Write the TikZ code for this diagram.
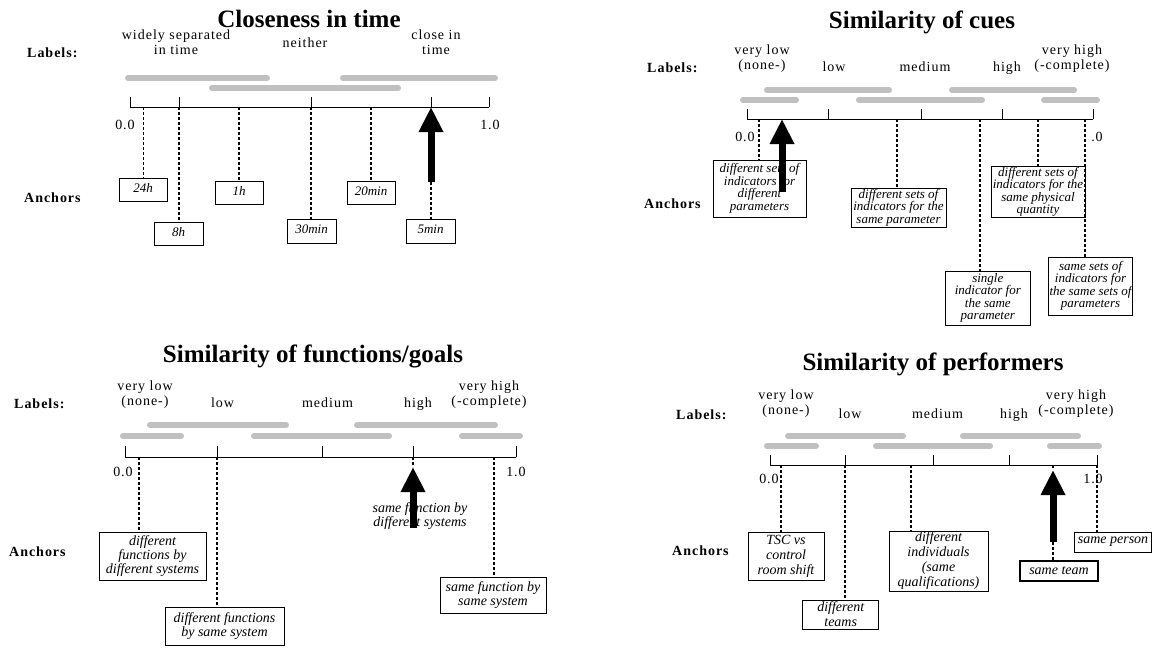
\documentclass[tikz,border=0pt]{standalone}
\usepackage{fontspec}
\setmainfont{Liberation Serif}
\newfontfamily\lsfont{Liberation Serif}[LetterSpace=7]
\usetikzlibrary{arrows.meta}
\definecolor{barc}{RGB}{192,192,192}
\begin{document}
\begin{tikzpicture}[x=1pt,y=-1pt,
  ttl/.style={font=\fontsize{25}{28}\selectfont\bfseries, inner sep=0pt, text height=17pt, text depth=1pt},
  hdr/.style={font=\lsfont\fontsize{14}{16}\selectfont\bfseries, anchor=west, inner sep=0pt, text height=9.5pt, text depth=0pt},
  lbl/.style={font=\lsfont\fontsize{14}{15}\selectfont, align=center, inner sep=0pt, text height=9.5pt, text depth=3pt},
  num/.style={font=\lsfont\fontsize{14}{14}\selectfont, inner sep=0pt, text height=9.5pt, text depth=0pt},
  bar/.style={line width=6pt, line cap=round, draw=barc},
  ax/.style={line width=1pt},
  dl/.style={line width=1.6pt, dash pattern=on 3pt off 2pt},
  dlt/.style={line width=0.9pt, dash pattern=on 3pt off 2pt},
  big/.style={line width=7pt, -{Triangle[width=23pt,length=25pt]}},
  abox/.style={draw, line width=0.8pt, align=center, inner sep=1pt, fill=white},
  fa/.style={font=\fontsize{13}{13}\selectfont\itshape, text height=8pt, text depth=3pt},
  fb/.style={font=\fontsize{13}{12.5}\selectfont\itshape},
  fc/.style={font=\fontsize{14}{14}\selectfont\itshape},
  fd/.style={font=\fontsize{14}{15}\selectfont\itshape}
]
\useasboundingbox[fill=white] (0,0) rectangle (1153,651);

% ================= Panel 1: Closeness in time =================
\node[ttl] (t1) at (309,19) {Closeness in time};
\node[hdr] (h1) at (27,53) {Labels:};
\node[lbl] (l1a) at (176,51.5) {widely separated\\in time};
\node[lbl] (l1b) at (305,44) {neither};
\node[lbl] (l1c) at (436,51.5) {close in\\time};
\draw[bar] (128,78) -- (267,78);
\draw[bar] (212,88) -- (398,88);
\draw[bar] (343,78) -- (495,78);
\coordinate (a1L) at (130,107);
\coordinate (a1R) at (489,107);
\coordinate (p1a) at (143,107);
\coordinate (p1b) at (179,107);
\coordinate (p1c) at (239,107);
\coordinate (p1d) at (311,107);
\coordinate (p1e) at (371,107);
\coordinate (p1f) at (431,107);
\draw[ax] (a1L) -- (a1R);
\draw[ax] (a1L) -- ++(0,-10);
\draw[ax] (a1R) -- ++(0,-10);
\draw[ax] (p1b) -- ++(0,-10);
\draw[ax] (p1d) -- ++(0,-10);
\draw[ax] (p1f) -- ++(0,-10);
\node[num] (n1a) at (125,125) {0.0};
\node[num] (n1b) at (490,125) {1.0};
\node[hdr] (an1) at (24,198) {Anchors};
\node[abox,fa,minimum width=48pt,minimum height=23pt] (b1a) at (143,189.5) {24h};
\node[abox,fa,minimum width=49pt,minimum height=23pt] (b1b) at (178.5,233.5) {8h};
\node[abox,fa,minimum width=48pt,minimum height=23pt] (b1c) at (239,192.5) {1h};
\node[abox,fa,minimum width=49pt,minimum height=24pt] (b1d) at (311.5,231) {30min};
\node[abox,fa,minimum width=48pt,minimum height=23pt] (b1e) at (371,192.5) {20min};
\node[abox,fa,minimum width=49pt,minimum height=24pt] (b1f) at (430.5,231) {5min};
\draw[dlt] (p1a) -- (p1a |- b1a.north);
\draw[dl] (p1b) -- (p1b |- b1b.north);
\draw[dl] (p1c) -- (p1c |- b1c.north);
\draw[dl] (p1d) -- (p1d |- b1d.north);
\draw[dl] (p1e) -- (p1e |- b1e.north);
\coordinate (q1) at (431,182);
\draw[dl] (q1) -- (q1 |- b1f.north);
\draw[big] (q1) -- (p1f);

% ================= Panel 2: Similarity of cues =================
\node[ttl] (t2) at (922,20) {Similarity of cues};
\node[hdr] (h2) at (647,68) {Labels:};
\node[lbl] (l2a) at (762,66.5) {very low\\(none-)};
\node[lbl] (l2b) at (834,68) {low};
\node[lbl] (l2c) at (925,68) {medium};
\node[lbl] (l2d) at (1007,68) {high};
\node[lbl] (l2e) at (1072,66.5) {very high\\(-complete)};
\draw[bar] (767,90) -- (889,90);
\draw[bar] (952,90) -- (1074,90);
\draw[bar] (743,100) -- (796,100);
\draw[bar] (859,100) -- (982,100);
\draw[bar] (1044,100) -- (1097,100);
\coordinate (a2L) at (747,119);
\coordinate (a2R) at (1093,119);
\coordinate (p2a) at (759,119);
\coordinate (p2b) at (897,119);
\coordinate (p2c) at (980,119);
\coordinate (p2d) at (1038,119);
\coordinate (p2e) at (1085,119);
\coordinate (p2f) at (782,119);
\draw[ax] (a2L) -- (a2R);
\draw[ax] (a2L) -- ++(0,-10);
\draw[ax] (a2R) -- ++(0,-10);
\draw[ax] (828,119) -- (828,109);
\draw[ax] (921,119) -- (921,109);
\draw[ax] (1002,119) -- (1002,109);
\node[num] (n2a) at (745,137) {0.0};
\node[num] (n2b) at (1097,137) {.0};
\node[hdr] (an2) at (644,204) {Anchors};
\node[abox,fb,minimum width=93pt,minimum height=57pt] (b2a) at (759.5,188.5) {different sets of\\indicators for\\different\\parameters};
\node[abox,fb,minimum width=95pt,minimum height=39pt] (b2b) at (898.5,207.5) {different sets of\\indicators for the\\same parameter};
\node[abox,fb,minimum width=84.5pt,minimum height=54pt] (b2c) at (987.8,298) {single\\indicator for\\the same\\parameter};
\node[abox,fb,minimum width=94pt,minimum height=50pt] (b2d) at (1038,192) {different sets of\\indicators for the\\same physical\\quantity};
\node[abox,fb,minimum width=83pt,minimum height=58pt] (b2e) at (1090.5,286) {same sets of\\indicators for\\the same sets of\\parameters};
\draw[dl] (p2a) -- (p2a |- b2a.north);
\draw[dl] (p2b) -- (p2b |- b2b.north);
\draw[dl] (p2c) -- (p2c |- b2c.north);
\draw[dl] (p2d) -- (p2d |- b2d.north);
\draw[dl] (p2e) -- (p2e |- b2e.north);
\coordinate (q2) at (782,192);
\draw[big] (q2) -- (p2f);

% ================= Panel 3: Similarity of functions/goals =================
\node[ttl] (t3) at (313,354) {Similarity of functions/goals};
\node[hdr] (h3) at (14,404) {Labels:};
\node[lbl] (l3a) at (145,402) {very low\\(none-)};
\node[lbl] (l3b) at (222.5,404) {low};
\node[lbl] (l3c) at (327.5,404) {medium};
\node[lbl] (l3d) at (418,404) {high};
\node[lbl] (l3e) at (489,402) {very high\\(-complete)};
\draw[bar] (150,425) -- (217,425);
\draw[bar] (217,425) -- (286,425);
\draw[bar] (357,425) -- (426,425);
\draw[bar] (426,425) -- (495,425);
\draw[bar] (123,436) -- (181,436);
\draw[bar] (254,436) -- (389,436);
\draw[bar] (462,436) -- (520,436);
\coordinate (a3L) at (125,457);
\coordinate (a3R) at (516,457);
\coordinate (p3a) at (139,457);
\coordinate (p3b) at (217,457);
\coordinate (p3c) at (413,457);
\coordinate (p3d) at (494,457);
\coordinate (p3t) at (413,467);
\draw[ax] (a3L) -- (a3R);
\draw[ax] (a3L) -- ++(0,-11);
\draw[ax] (a3R) -- ++(0,-11);
\draw[ax] (p3b) -- ++(0,-11);
\draw[ax] (322,457) -- (322,446);
\draw[ax] (p3c) -- ++(0,-11);
\node[num] (n3a) at (123,472) {0.0};
\node[num] (n3b) at (516,472) {1.0};
\node[hdr] (an3) at (9,552) {Anchors};
\node[abox,fc,minimum width=107pt,minimum height=48pt] (b3a) at (152.5,556) {different\\functions by\\different systems};
\node[abox,fc,minimum width=119pt,minimum height=38pt] (b3b) at (224.5,626) {different functions\\by same system};
\node[abox,fc,minimum width=106pt,minimum height=36pt] (b3c) at (493,595) {same function by\\same system};
\node[fc,align=center,inner sep=0pt] (x3) at (420,516.5) {same function by\\different systems};
\draw[dl] (p3a) -- (p3a |- b3a.north);
\draw[dl] (p3b) -- (p3b |- b3b.north);
\draw[dl] (p3d) -- (p3d |- b3c.north);
\draw[dl] (p3c) -- (p3t);
\coordinate (q3) at (413,528);
\draw[big] (q3) -- (p3t);

% ================= Panel 4: Similarity of performers =================
\node[ttl] (t4) at (933,362) {Similarity of performers};
\node[hdr] (h4) at (676,415) {Labels:};
\node[lbl] (l4a) at (786,411) {very low\\(none-)};
\node[lbl] (l4b) at (850,415) {low};
\node[lbl] (l4c) at (937.5,415) {medium};
\node[lbl] (l4d) at (1014,415) {high};
\node[lbl] (l4e) at (1076,411) {very high\\(-complete)};
\draw[bar] (788,436) -- (903,436);
\draw[bar] (963,436) -- (1078,436);
\draw[bar] (767,446) -- (816,446);
\draw[bar] (876,446) -- (990,446);
\draw[bar] (1050,446) -- (1099,446);
\coordinate (a4L) at (770,465);
\coordinate (a4R) at (1097,465);
\coordinate (p4a) at (781,465);
\coordinate (p4b) at (845,465);
\coordinate (p4c) at (911,465);
\coordinate (p4d) at (1053,465);
\coordinate (p4t) at (1053,470);
\draw[ax] (a4L) -- (a4R);
\draw[ax] (a4L) -- ++(0,-10);
\draw[ax] (a4R) -- ++(0,-10);
\draw[ax] (p4b) -- ++(0,-10);
\draw[ax] (933,465) -- (933,455);
\draw[ax] (1009,465) -- (1009,455);
\node[num] (n4a) at (769,479) {0.0};
\node[num] (n4b) at (1093,479) {1.0};
\node[hdr] (an4) at (672,551) {Anchors};
\node[abox,fd,minimum width=76pt,minimum height=48pt] (b4a) at (786,556) {TSC vs\\control\\room shift};
\node[abox,fd,minimum width=76pt,minimum height=29pt] (b4b) at (840.7,614.5) {different\\teams};
\node[abox,fd,minimum width=99pt,minimum height=58pt] (b4c) at (938.5,561) {different\\individuals\\(same\\qualifications)};
\node[abox,fd,line width=2pt,minimum width=78pt,minimum height=20pt,inner sep=0pt] (b4d) at (1059,571) {same team};
\node[abox,fd,minimum width=77pt,minimum height=20pt,inner sep=0pt] (b4e) at (1113,542) {same person};
\draw[dl] (p4a) -- (p4a |- b4a.north);
\draw[dl] (p4b) -- (p4b |- b4b.north);
\draw[dl] (p4c) -- (p4c |- b4c.north);
\draw[dl] (a4R) -- (a4R |- b4e.north);
\draw[dl] (p4d) -- (p4t);
\coordinate (q4) at (1053,542);
\draw[dl] (q4) -- (q4 |- b4d.north);
\draw[big] (q4) -- (p4t);
\end{tikzpicture}
\end{document}
